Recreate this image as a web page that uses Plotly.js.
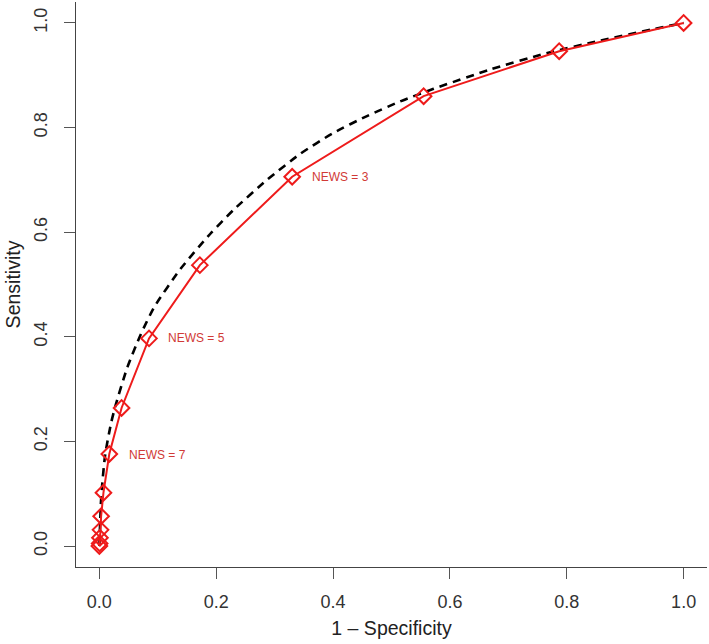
<!DOCTYPE html>
<html>
<head>
<meta charset="utf-8">
<script src="https://cdn.plot.ly/plotly-3.0.1.min.js"></script>
<style>html,body{margin:0;padding:0;background:#fff;}#chart{width:709px;height:644px;}</style>
</head>
<body>
<div id="chart"></div>
<script>
// Empirical ROC points (1 - specificity, sensitivity)
const empFPR = [0, 0.0005, 0.001, 0.002, 0.003, 0.007, 0.017, 0.038, 0.085, 0.172, 0.330, 0.555, 0.787, 1.0];
const empTPR = [0, 0.005, 0.016, 0.031, 0.057, 0.102, 0.176, 0.264, 0.397, 0.537, 0.706, 0.860, 0.946, 1.0];

// Smoothed ROC curve (dashed)
const smoothFPR = [0, 0.0025, 0.005, 0.010, 0.020, 0.028, 0.048, 0.071, 0.094, 0.139, 0.190, 0.230, 0.287, 0.344, 0.401, 0.458, 0.515, 0.572, 0.669, 0.765, 0.857, 0.948, 1.0];
const smoothTPR = [0, 0.080, 0.120, 0.175, 0.235, 0.270, 0.342, 0.405, 0.457, 0.530, 0.597, 0.643, 0.700, 0.750, 0.790, 0.822, 0.850, 0.874, 0.911, 0.942, 0.966, 0.988, 1.0];

// Threshold labels
const labelText = ["NEWS = 3", "NEWS = 5", "NEWS = 7"];
const labelX = [0.361, 0.114, 0.048];
const labelY = [0.706, 0.397, 0.175];

const tickVals = [0, 0.2, 0.4, 0.6, 0.8, 1.0];
const tickText = ["0.0", "0.2", "0.4", "0.6", "0.8", "1.0"];

const RED = "#ee1b1b";
const FONT = "Liberation Sans, Arial, sans-serif";

const traces = [
  {
    x: smoothFPR, y: smoothTPR, mode: "lines", type: "scatter",
    line: {color: "#000000", width: 2.6, dash: "8px,6px", shape: "spline", smoothing: 0.6},
    hoverinfo: "skip", showlegend: false
  },
  {
    x: empFPR, y: empTPR, mode: "lines+markers", type: "scatter",
    line: {color: RED, width: 2},
    marker: {symbol: "diamond-open", size: 12, color: RED, line: {color: RED, width: 2}},
    showlegend: false
  }
];

const annotations = labelText.map((t, i) => ({
  x: labelX[i], y: labelY[i], xref: "x", yref: "y", text: t,
  showarrow: false, xanchor: "left", yanchor: "middle",
  font: {family: FONT, size: 12, color: "#d13a36"}
}));

const axisCommon = {
  showgrid: false, zeroline: false, showline: true, linecolor: "#444", linewidth: 1,
  ticks: "outside", ticklen: 11, tickwidth: 1, tickcolor: "#555",
  tickvals: tickVals, ticktext: tickText,
  tickfont: {family: FONT, size: 18, color: "#333"},
  range: [-0.04, 1.04], autorange: false, mirror: false
};

const layout = {
  width: 709, height: 644,
  margin: {l: 76, r: 2, t: 2, b: 77},
  paper_bgcolor: "#fff", plot_bgcolor: "#fff",
  showlegend: false,
  xaxis: Object.assign({}, axisCommon, {
    ticklabelstandoff: 7,
    title: {text: "1 \u2013 Specificity", font: {family: FONT, size: 19.5, color: "#222"}, standoff: 10}
  }),
  yaxis: Object.assign({}, axisCommon, {
    tickangle: -90,
    ticklabelstandoff: 10,
    title: {text: "Sensitivity", font: {family: FONT, size: 19.5, color: "#222"}, standoff: 4}
  }),
  annotations: annotations
};

Plotly.newPlot("chart", traces, layout, {displayModeBar: false, staticPlot: true});
</script>
</body>
</html>
